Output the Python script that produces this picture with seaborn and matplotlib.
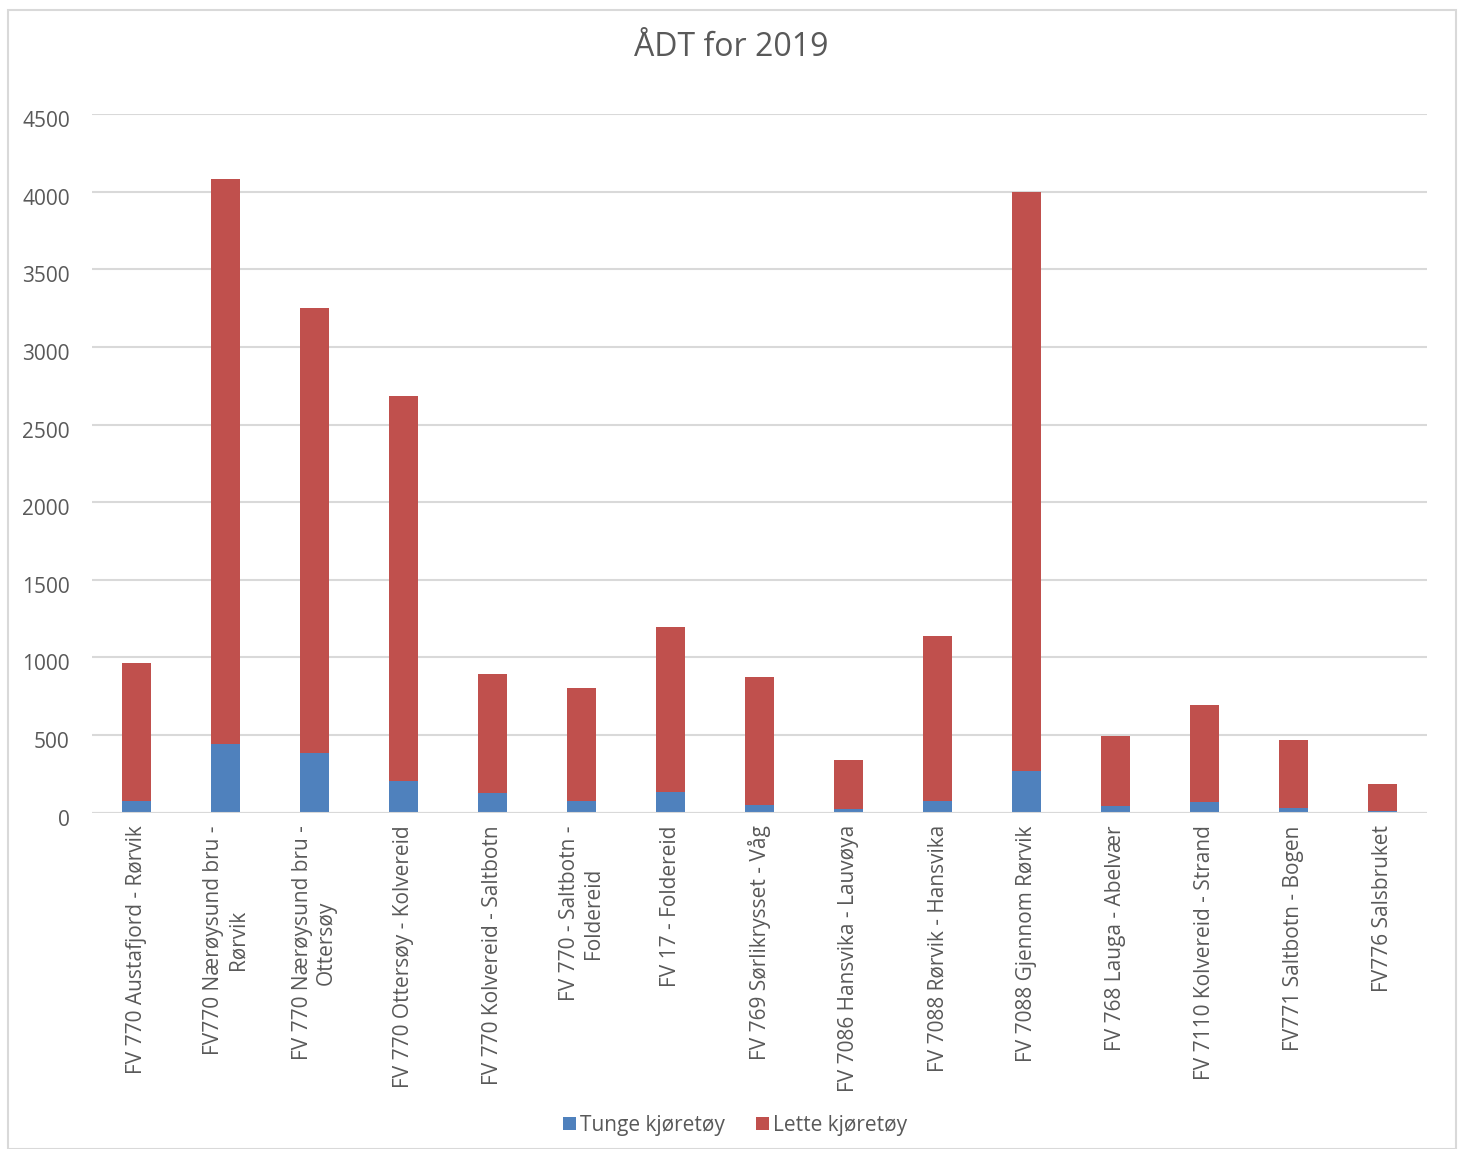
import matplotlib
matplotlib.use("Agg")
import matplotlib.pyplot as plt
import matplotlib.transforms as mtransforms
import seaborn as sns
import pandas as pd
import numpy as np
from matplotlib.patches import Patch, Rectangle

categories = [
    "FV 770 Austafjord - Rørvik",
    "FV770 Nærøysund bru -\nRørvik",
    "FV 770 Nærøysund bru -\nOttersøy",
    "FV 770 Ottersøy - Kolvereid",
    "FV 770 Kolvereid - Saltbotn",
    "FV 770 - Saltbotn -\nFoldereid",
    "FV 17 - Foldereid",
    "FV 769 Sørlikrysset - Våg",
    "FV 7086 Hansvika - Lauvøya",
    "FV 7088 Rørvik - Hansvika",
    "FV 7088 Gjennom Rørvik",
    "FV 768 Lauga - Abelvær",
    "FV 7110 Kolvereid - Strand",
    "FV771 Saltbotn - Bogen",
    "FV776 Salsbruket",
]
tunge = [75, 445, 385, 205, 127, 75, 135, 50, 24, 75, 270, 43, 69, 30, 10]
lette = [890, 3635, 2865, 2480, 768, 725, 1060, 825, 316, 1065, 3730, 452, 626, 438, 175]
series_names = ["Tunge kjøretøy", "Lette kjøretøy"]
title = "ÅDT for 2019"
yticks = [0, 500, 1000, 1500, 2000, 2500, 3000, 3500, 4000, 4500]

blue = "#4F81BD"
red = "#C0504D"
grey_text = "#595959"
grid_col = "#D9D9D9"

sns.set_theme(style="white")
plt.rcParams["font.family"] = ["Open Sans", "DejaVu Sans"]

df = pd.DataFrame({"cat": categories, "tunge": tunge, "lette": lette})
df["total"] = df["tunge"] + df["lette"]

fig = plt.figure(figsize=(14.62, 11.49), dpi=100)
ax = fig.add_axes([92/1462, 1 - 812.7/1149, (1427-92)/1462, (812.7-114)/1149])

sns.barplot(data=df, x="cat", y="total", color=red, width=0.315, ax=ax,
            saturation=1, order=categories, zorder=3, linewidth=0, edgecolor="none")
sns.barplot(data=df, x="cat", y="tunge", color=blue, width=0.315, ax=ax,
            saturation=1, order=categories, zorder=4, linewidth=0, edgecolor="none")

ax.set_xlim(-0.5, len(categories) - 0.5)
ax.set_ylim(0, 4500)
ax.set_yticks(yticks)
ax.set_yticklabels([str(v) for v in yticks])
ax.yaxis.grid(True, color=grid_col, linewidth=1.5, zorder=0)
ax.set_axisbelow(True)
for s in ax.spines.values():
    s.set_visible(False)
ax.axhline(0, color=grid_col, linewidth=1.5, zorder=5)
ax.set_xlabel("")
ax.set_ylabel("")
ax.tick_params(axis="y", length=0, pad=16, labelsize=15, labelcolor=grey_text)
ax.tick_params(axis="x", length=0, pad=9, labelsize=15, labelcolor=grey_text)
for lab in ax.get_xticklabels():
    lab.set_rotation(90)
    lab.set_ha("center")
    lab.set_va("top")
    lab.set_multialignment("center")

offset = mtransforms.ScaledTranslation(0, -5/100, fig.dpi_scale_trans)
for lab in ax.get_yticklabels():
    lab.set_transform(lab.get_transform() + offset)

fig.text(731/1462, 1 - 47/1149, title, ha="center", va="center",
         fontsize=23, color=grey_text)

handles = [Patch(facecolor=blue, edgecolor="none"), Patch(facecolor=red, edgecolor="none")]
fig.legend(handles, series_names, loc="center", bbox_to_anchor=(735/1462, 1 - 1125/1149),
           ncol=2, frameon=False, fontsize=15, labelcolor=grey_text,
           handlelength=0.6, handleheight=0.6, handletextpad=0.2, columnspacing=1.5)

fig.patches.append(Rectangle((8/1462, 0.0), (1456-8)/1462, 1 - 10/1149,
                             transform=fig.transFigure, fill=False,
                             edgecolor=grid_col, linewidth=1.5))

fig.savefig("out.png", dpi=100)
